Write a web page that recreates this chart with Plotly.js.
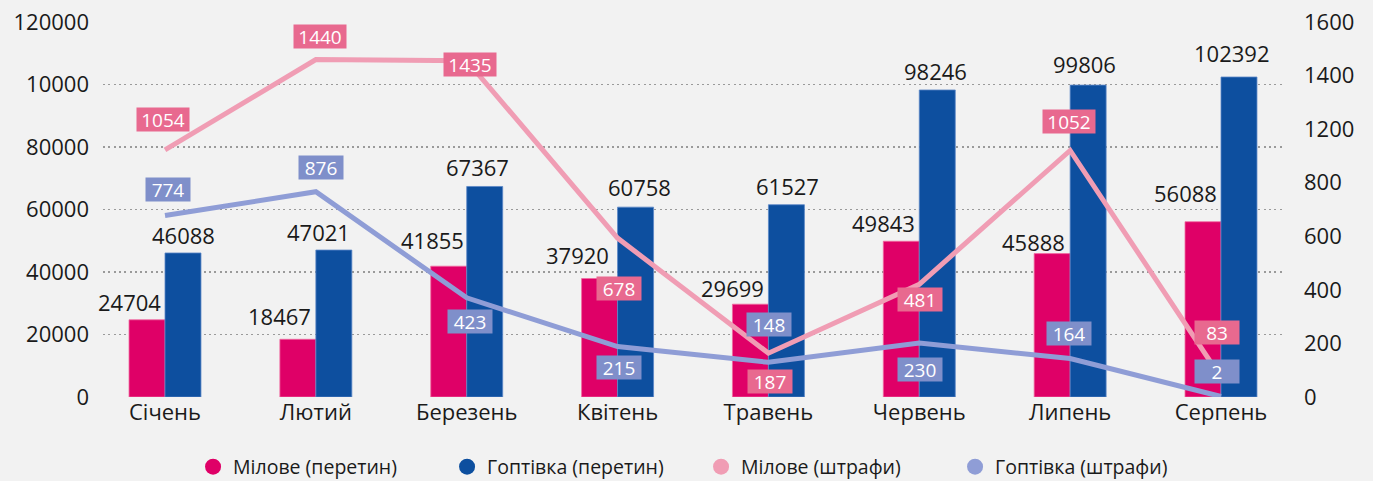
<!DOCTYPE html>
<html><head><meta charset="utf-8">
<script src="https://cdn.plot.ly/plotly-3.0.1.min.js"></script>
<style>body{margin:0;background:#f2f2f2}</style>
</head><body><div id="chart" style="width:1373px;height:481px"></div>
<script>
const months = ['Січень','Лютий','Березень','Квітень','Травень','Червень','Липень','Серпень'];
const miloveCross = [24704,18467,41855,37920,29699,49843,45888,56088];
const goptivkaCross = [46088,47021,67367,60758,61527,98246,99806,102392];
const miloveFines = [1054,1440,1435,678,187,481,1052,83];
const goptivkaFines = [774,876,423,215,148,230,164,2];
const leftTickVals = [0,20000,40000,60000,80000,100000,120000];
const leftTickText = ['0','20000','40000','60000','80000','10000','120000'];
const rightTickVals = [0,228.57,457.14,685.71,914.29,1142.86,1371.43,1600];
const rightTickText = ['0','200','400','600','800','1200','1400','1600'];
const seriesNames = ['Мілове (перетин)','Гоптівка (перетин)','Мілове (штрафи)','Гоптівка (штрафи)'];

// label placement (pixel offsets, style only)
const mcDx = [-36,-36,-34,-40,-36,-36,-37,-36];
const mcDy = [18,23,26,23.5,16,18,12,29];
const gcDx = [18,3,11,22,19,16,14,10];
const gcDy = [18,18,19.5,20,19,19,21,24];
const mfDx = [-2.5,4,3,1,2,1,-1,-4];
const mfDy = [30.5,23,-4,-50,-28,-15,29,45];
const gfDx = [3,5,3,1,1,1,-1,-4];
const gfDy = [26,24,-24,-21,38,-26,25,25];

const C = {mc:'#df0067', gc:'#0d4f9f', mf:'#f09db4', gf:'#8f9dd6', mfBox:'#e8698f', gfBox:'#7f8fca'};
const FONT = 'Open Sans, Noto Sans, sans-serif';

const traces = [
  {type:'bar', x:months, y:miloveCross, name:seriesNames[0], marker:{color:C.mc, line:{color:'#f06aa0', width:0.8}}, showlegend:false},
  {type:'bar', x:months, y:goptivkaCross, name:seriesNames[1], marker:{color:C.gc, line:{color:'#5b87c7', width:0.8}}, showlegend:false},
  {type:'scatter', mode:'lines', x:months, y:miloveFines, yaxis:'y2', name:seriesNames[2], line:{color:C.mf, width:5}, showlegend:false},
  {type:'scatter', mode:'lines', x:months, y:goptivkaFines, yaxis:'y2', name:seriesNames[3], line:{color:C.gf, width:5}, showlegend:false}
];
[C.mc, C.gc, C.mf, C.gf].forEach((c,i)=>{
  traces.push({type:'scatter', mode:'markers', x:[months[0]], y:[null], name:seriesNames[i], marker:{color:c, size:22, symbol:'circle'}, showlegend:true});
});

const ann = [];
months.forEach((m,i)=>{
  ann.push({x:m, y:miloveCross[i], xref:'x', yref:'y', text:String(miloveCross[i]), showarrow:false, xshift:mcDx[i], yshift:mcDy[i], font:{size:22, color:'#1a1a1a', family:FONT}});
  ann.push({x:m, y:goptivkaCross[i], xref:'x', yref:'y', text:String(goptivkaCross[i]), showarrow:false, xshift:gcDx[i], yshift:gcDy[i], font:{size:22, color:'#1a1a1a', family:FONT}});
});
function boxW(v){ return String(v).length>=4 ? 46 : 38; }
months.forEach((m,i)=>{
  ann.push({x:m, y:miloveFines[i], xref:'x', yref:'y2', text:String(miloveFines[i]), showarrow:false, xshift:mfDx[i], yshift:mfDy[i], bgcolor:C.mfBox, borderpad:3, width:boxW(miloveFines[i]), height:17, font:{size:19, color:'#ffffff', family:FONT}});
  ann.push({x:m, y:goptivkaFines[i], xref:'x', yref:'y2', text:String(goptivkaFines[i]), showarrow:false, xshift:gfDx[i], yshift:gfDy[i], bgcolor:C.gfBox, borderpad:3, width:boxW(goptivkaFines[i]), height:17, font:{size:19, color:'#ffffff', family:FONT}});
});

const layout = {
  width:1373, height:481,
  paper_bgcolor:'#f2f2f2', plot_bgcolor:'#f2f2f2',
  margin:{l:103, r:90, t:22, b:84},
  font:{family:FONT, color:'#1a1a1a'},
  barmode:'group', bargap:0.523, bargroupgap:0,
  xaxis:{type:'category', range:[-0.411, 7.411], showgrid:false, zeroline:false, showline:false, ticks:'', tickfont:{size:22, color:'#1a1a1a'}, fixedrange:true},
  yaxis:{range:[0,120000], tickvals:leftTickVals, ticktext:leftTickText, showgrid:true, gridcolor:'#9a9a9a', gridwidth:1.5, griddash:'2px,3.3px', zeroline:false, showline:false, ticks:'', ticklabelstandoff:13, tickfont:{size:22, color:'#1a1a1a'}},
  yaxis2:{range:[0,1600], tickvals:rightTickVals, ticktext:rightTickText, overlaying:'y', side:'right', showgrid:false, zeroline:false, showline:false, ticks:'', ticklabelstandoff:20, tickfont:{size:22, color:'#1a1a1a'}},
  legend:{orientation:'h', x:0.5106, xanchor:'center', xref:'container', y:14/481, yref:'container', yanchor:'middle', font:{size:19.5, color:'#1a1a1a'}, itemsizing:'trace', entrywidth:209, entrywidthmode:'pixels'},
  showlegend:true,
  annotations:ann
};
Plotly.newPlot('chart', traces, layout, {displayModeBar:false, staticPlot:true});
</script></body></html>
